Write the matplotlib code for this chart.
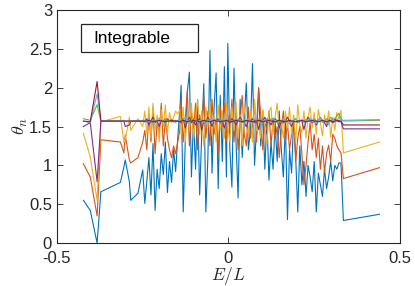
import matplotlib
matplotlib.use("Agg")
import matplotlib.pyplot as plt
from matplotlib.patches import Rectangle
from matplotlib.ticker import FuncFormatter

plt.rcParams['font.family'] = ['Liberation Sans', 'DejaVu Sans']
plt.rcParams['mathtext.fontset'] = 'cm'

# energie E/L (spolecne pro vsechny krivky)
e_l = [-0.423, -0.403, -0.383, -0.372, -0.315, -0.305, -0.301, -0.289, -0.285, -0.264, -0.250,
       -0.244, -0.238, -0.232, -0.226, -0.220, -0.214, -0.208, -0.202, -0.196, -0.190,
       -0.184, -0.178, -0.172, -0.166, -0.160, -0.154, -0.148, -0.142,
       -0.138, -0.132, -0.126, -0.120, -0.114, -0.108, -0.102, -0.096, -0.090, -0.084,
       -0.078, -0.072, -0.066, -0.060, -0.054, -0.048, -0.042, -0.036, -0.030, -0.024,
       -0.018, -0.012, -0.006, -0.002,
       0.004, 0.010, 0.016, 0.022, 0.028, 0.034, 0.040, 0.046, 0.052, 0.058,
       0.064, 0.070, 0.076, 0.082, 0.088, 0.094, 0.100, 0.106, 0.112, 0.118,
       0.124, 0.130, 0.136, 0.142, 0.148, 0.154, 0.160, 0.166, 0.172, 0.178,
       0.184, 0.190, 0.196, 0.202, 0.208, 0.214, 0.220, 0.226, 0.232, 0.238,
       0.244, 0.250, 0.256, 0.262, 0.268, 0.274, 0.280, 0.286, 0.292, 0.298,
       0.304, 0.310, 0.316, 0.322, 0.328,
       0.335, 0.440]

theta_1 = [0.55, 0.42, 0.00, 0.66, 0.78, 0.98, 1.07, 0.79, 0.55, 0.64, 0.94,
           0.51, 0.80, 1.10, 0.62, 1.28, 0.42, 0.95, 0.70, 1.15, 0.88,
           1.30, 0.65, 1.05, 0.78, 1.20, 0.92, 1.35, 1.70,
           2.03, 0.40, 1.30, 1.95, 2.20, 0.85, 1.60, 0.95, 1.85, 0.62,
           1.40, 2.05, 0.40, 1.10, 2.48, 0.90, 1.75, 2.19, 0.70, 1.90,
           1.05, 2.27, 0.85, 2.57,
           1.20, 0.72, 2.25, 1.30, 0.58, 1.85, 1.10, 1.60, 2.06, 1.20,
           1.45, 2.31, 1.00, 1.50, 2.00, 1.25, 1.70, 0.95, 1.60, 0.81,
           1.30, 0.95, 1.55, 1.05, 1.70, 1.20, 0.85, 1.55, 0.30, 1.20,
           0.90, 1.62, 1.10, 0.40, 1.25, 0.75, 1.05, 0.60, 1.00, 0.85,
           0.66, 1.05, 0.40, 0.90, 0.75, 0.60, 0.95, 0.70, 0.85, 1.05,
           0.80, 1.00, 0.95, 1.03, 1.03,
           0.29, 0.37]

theta_2 = [1.02, 0.85, 0.35, 1.33, 1.30, 1.16, 1.39, 1.07, 1.03, 1.10, 1.30,
           1.45, 1.20, 1.65, 1.30, 1.75, 1.15, 1.55, 1.40, 1.80, 1.25,
           1.60, 1.35, 1.20, 1.10, 1.25, 1.15, 1.30, 1.45,
           1.85, 1.30, 1.60, 1.95, 1.25, 1.70, 1.45, 1.80, 1.20, 1.65,
           1.50, 1.90, 1.35, 1.70, 1.25, 1.85, 1.40, 1.60, 1.15, 1.75,
           1.50, 1.80, 1.30, 1.65,
           1.45, 1.85, 1.30, 1.70, 1.20, 1.60, 1.90, 1.40, 1.25, 1.75,
           1.35, 1.50, 1.80, 1.30, 1.99, 1.65, 1.20, 1.55, 1.45, 1.70,
           1.25, 1.60, 1.35, 1.50, 1.10, 1.45, 1.70, 1.30, 1.55, 1.20,
           1.40, 1.60, 1.05, 1.35, 1.50, 1.15, 0.75, 1.00, 1.30, 1.55,
           1.20, 1.40, 1.10, 1.35, 0.95, 1.25, 0.91, 1.15, 1.26, 1.05,
           1.40, 1.35, 1.25, 1.20, 1.16,
           0.83, 0.97]

theta_3 = [1.41, 1.11, 0.55, 1.56, 1.63, 1.30, 1.33, 1.62, 1.45, 1.60, 1.50,
           1.70, 1.40, 1.75, 1.35, 1.80, 1.45, 1.65, 1.30, 1.72, 1.50,
           1.78, 1.40, 1.68, 1.55, 1.62, 1.70, 1.66, 1.72,
           1.40, 1.75, 1.30, 1.68, 1.45, 1.80, 1.35, 1.62, 1.85, 1.40,
           1.70, 1.25, 1.75, 1.50, 1.82, 1.38, 1.65, 1.30, 1.78, 1.45,
           1.70, 1.35, 1.80, 1.50,
           1.30, 1.75, 1.45, 1.82, 1.35, 1.65, 1.25, 1.78, 1.50, 1.40,
           1.70, 1.30, 1.85, 1.45, 1.60, 1.35, 1.72, 1.50, 1.28, 1.68,
           1.75, 1.40, 1.62, 1.80, 1.45, 1.55, 1.35, 1.70, 1.48, 1.75,
           1.40, 1.65, 1.30, 1.78, 1.52, 1.42, 1.70, 1.35, 1.62, 1.75,
           1.48, 1.68, 1.40, 1.72, 1.55, 1.38, 1.65, 1.50, 1.70, 1.36,
           1.62, 1.45, 1.68, 1.60, 1.71,
           1.16, 1.30]

theta_4 = [1.50, 1.55, 0.79, 1.57, 1.57, 1.57, 1.50, 1.52, 1.57, 1.57, 1.57,
           1.56, 1.60, 1.52, 1.57, 1.62, 1.55, 1.57, 1.50, 1.58, 1.57,
           1.55, 1.60, 1.57, 1.57, 1.56, 1.58, 1.57, 1.57,
           1.55, 1.60, 1.48, 1.57, 1.62, 1.55, 1.57, 1.52, 1.58, 1.60,
           1.45, 1.57, 1.55, 1.62, 1.57, 1.50, 1.58, 1.57, 1.60, 1.54,
           1.57, 1.48, 1.58, 1.57,
           1.55, 1.60, 1.57, 1.52, 1.58, 1.62, 1.57, 1.55, 1.50, 1.58,
           1.57, 1.60, 1.55, 1.57, 1.46, 1.58, 1.57, 1.62, 1.55, 1.57,
           1.52, 1.58, 1.60, 1.57, 1.48, 1.57, 1.55, 1.58, 1.62, 1.57,
           1.50, 1.57, 1.60, 1.55, 1.58, 1.57, 1.46, 1.57, 1.62, 1.58,
           1.55, 1.57, 1.52, 1.58, 1.60, 1.57, 1.55, 1.50, 1.58, 1.57,
           1.55, 1.60, 1.57, 1.58, 1.56,
           1.47, 1.47]

theta_5 = [1.60, 1.58, 1.78, 1.57, 1.57, 1.57, 1.57, 1.57, 1.57, 1.57, 1.57,
           1.57, 1.58, 1.56, 1.57, 1.59, 1.57, 1.56, 1.58, 1.57, 1.57,
           1.60, 1.57, 1.56, 1.57, 1.58, 1.57, 1.57, 1.56,
           1.57, 1.59, 1.55, 1.57, 1.58, 1.57, 1.60, 1.56, 1.57, 1.58,
           1.57, 1.55, 1.57, 1.59, 1.57, 1.56, 1.58, 1.57, 1.57, 1.60,
           1.56, 1.57, 1.58, 1.57,
           1.57, 1.58, 1.56, 1.57, 1.59, 1.57, 1.55, 1.58, 1.57, 1.60,
           1.57, 1.56, 1.58, 1.57, 1.57, 1.59, 1.56, 1.57, 1.58, 1.57,
           1.60, 1.57, 1.56, 1.58, 1.57, 1.55, 1.57, 1.59, 1.57, 1.58,
           1.56, 1.57, 1.60, 1.57, 1.58, 1.57, 1.56, 1.59, 1.57, 1.58,
           1.57, 1.60, 1.57, 1.58, 1.62, 1.58, 1.57, 1.60, 1.58, 1.62,
           1.59, 1.60, 1.64, 1.67, 1.60,
           1.57, 1.58]

theta_6 = [1.57, 1.55, 1.92, 1.57, 1.57, 1.58, 1.57, 1.56, 1.57, 1.57, 1.58,
           1.58, 1.55, 1.60, 1.57, 1.52, 1.58, 1.57, 1.61, 1.56, 1.57,
           1.54, 1.58, 1.57, 1.60, 1.57, 1.55, 1.58, 1.57,
           1.56, 1.58, 1.62, 1.57, 1.54, 1.58, 1.57, 1.60, 1.55, 1.57,
           1.59, 1.57, 1.53, 1.58, 1.57, 1.61, 1.56, 1.57, 1.58, 1.54,
           1.57, 1.60, 1.57, 1.56,
           1.58, 1.55, 1.57, 1.61, 1.57, 1.56, 1.58, 1.53, 1.57, 1.59,
           1.57, 1.55, 1.60, 1.57, 1.58, 1.54, 1.57, 1.59, 1.57, 1.56,
           1.58, 1.61, 1.57, 1.55, 1.57, 1.58, 1.60, 1.56, 1.57, 1.53,
           1.58, 1.57, 1.60, 1.56, 1.57, 1.59, 1.55, 1.57, 1.58, 1.61,
           1.56, 1.57, 1.54, 1.58, 1.60, 1.55, 1.57, 1.59, 1.52, 1.58,
           1.60, 1.55, 1.58, 1.62, 1.58,
           1.58, 1.59]

theta_7 = [1.57, 1.56, 2.08, 1.57, 1.57, 1.57, 1.57, 1.57, 1.57, 1.57, 1.57,
           1.57, 1.57, 1.58, 1.57, 1.56, 1.57, 1.57, 1.58, 1.57, 1.57,
           1.56, 1.57, 1.57, 1.58, 1.57, 1.57, 1.57, 1.56,
           1.57, 1.58, 1.57, 1.56, 1.57, 1.57, 1.58, 1.57, 1.57, 1.56,
           1.57, 1.58, 1.57, 1.57, 1.56, 1.57, 1.58, 1.57, 1.57, 1.56,
           1.57, 1.57, 1.58, 1.57,
           1.57, 1.56, 1.57, 1.58, 1.57, 1.57, 1.56, 1.57, 1.58, 1.57,
           1.57, 1.56, 1.57, 1.57, 1.58, 1.57, 1.56, 1.57, 1.57, 1.58,
           1.57, 1.57, 1.56, 1.57, 1.58, 1.57, 1.57, 1.56, 1.57, 1.58,
           1.57, 1.57, 1.56, 1.57, 1.57, 1.58, 1.57, 1.56, 1.57, 1.57,
           1.58, 1.57, 1.57, 1.56, 1.57, 1.58, 1.57, 1.56, 1.57, 1.58,
           1.56, 1.57, 1.58, 1.56, 1.57,
           1.52, 1.52]

# barvy jako v MATLABu
barvy = ['#0072BD', '#D95319', '#EDB120', '#7E2F8E', '#77AC30', '#4DBEEE', '#A2142F']
krivky = [theta_1, theta_2, theta_3, theta_4, theta_5, theta_6, theta_7]

fig = plt.figure(figsize=(4.15, 2.86), dpi=100)
ax = fig.add_axes([0.1373, 0.1503, 0.8265, 0.8147])

for th, c in zip(krivky, barvy):
    ax.plot(e_l, th, color=c, lw=0.8)

ax.set_xlim(-0.5, 0.5)
ax.set_ylim(0, 3)
ax.set_xticks([-0.5, 0, 0.5])
ax.set_yticks([0, 0.5, 1, 1.5, 2, 2.5, 3])
fmt = FuncFormatter(lambda v, p: '%g' % v)
ax.xaxis.set_major_formatter(fmt)
ax.yaxis.set_major_formatter(fmt)
ax.tick_params(direction='in', top=True, right=True, labelsize=12,
               colors='#262626', length=4, width=0.6)
ax.tick_params(axis='x', pad=6)
for s in ax.spines.values():
    s.set_color('#262626')
    s.set_linewidth(0.8)

ax.set_xlabel(r'$E/L$', fontsize=12.5, color='#262626', labelpad=-1)
ax.set_ylabel(r'$\theta_n$', fontsize=13, color='#262626', labelpad=-1)

# rameček s popisem
ax.add_patch(Rectangle((0.069, 0.819), 0.341, 0.121, transform=ax.transAxes,
                       facecolor='white', edgecolor='#262626', lw=0.9, zorder=5))
ax.text(0.107, 0.879, 'Integrable', transform=ax.transAxes, fontsize=12.4,
        ha='left', va='center', color='black', zorder=6)

fig.savefig('out.png', dpi=100)
